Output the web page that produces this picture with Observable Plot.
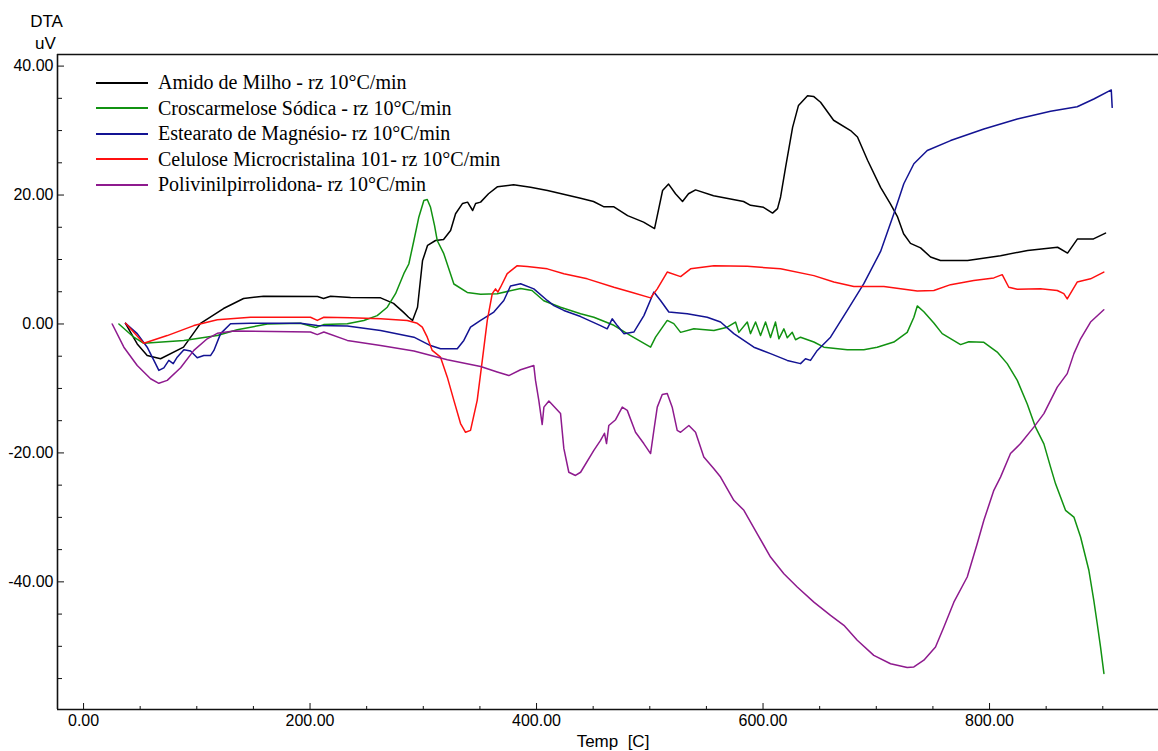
<!DOCTYPE html>
<html>
<head>
<meta charset="utf-8">
<script src="https://cdn.jsdelivr.net/npm/d3@7"></script>
<script src="https://cdn.jsdelivr.net/npm/@observablehq/plot@0.6"></script>
<style>
  body { margin: 0; background: #fff; }
  #chart { position: relative; width: 1158px; height: 751px; }
  #legend {
    position: absolute; left: 96px; top: 70px;
    font-family: "Liberation Serif", "Times New Roman", serif;
    font-size: 20px; color: #000;
  }
  #legend .row { display: flex; align-items: center; height: 25.5px; line-height: 25.5px; white-space: nowrap; }
  #legend .swatch { width: 52px; height: 2px; margin-right: 10px; }
</style>
</head>
<body>
<div id="chart"></div>
<script>
// DTA curves, [temperature °C, signal uV]
const amidoMilho = [[37,0.1],[47.4,-3.1],[56.2,-4.9],[68,-5.4],[88.3,-3.6],[103.3,0.1],[123.6,2.4],[141.3,3.95],[158.9,4.3],[206.6,4.25],[211.9,3.95],[218.1,4.3],[235.8,4.1],[262.3,4.05],[273.7,3.2],[282.6,1.8],[287,1.05],[290.5,0.55],[294.9,2.6],[299.3,9.8],[303.8,12.2],[310.8,12.95],[317.9,13.1],[324.1,14.5],[328.5,17.1],[334.7,18.7],[339.1,18.9],[343.6,17.6],[346.2,18.7],[350.6,18.9],[357.6,20.2],[365.6,21.3],[379.7,21.6],[394.7,21.2],[409.7,20.7],[438.9,19.5],[450.3,19.0],[459.2,18.2],[468,18.2],[480.4,16.8],[494.5,15.8],[504.2,14.8],[511.3,20.7],[516.6,21.7],[522.7,20.2],[528.9,19.0],[534.2,20.2],[540.4,20.8],[556.3,19.9],[571.3,19.4],[582.8,19.0],[589,18.4],[600.4,18.1],[608.4,17.2],[612.8,17.9],[615.5,19.7],[619.9,24.3],[626.1,30.5],[631.3,33.9],[639.3,35.4],[644.6,35.3],[650.8,34.4],[662.3,31.6],[677.3,30.0],[683.4,29.0],[692.3,25.4],[703.8,21.2],[712.6,18.6],[718.8,16.6],[724.1,14.0],[730.2,12.5],[739.1,11.8],[747.9,10.4],[756.7,9.85],[780.6,9.85],[809.7,10.6],[833.6,11.4],[860.1,11.9],[868.9,11.0],[877.7,13.2],[891.8,13.2],[902.4,14.1]];

const croscarmelose = [[31.2,0],[44.4,-2.05],[53.2,-3.0],[88.6,-2.55],[118.1,-1.8],[135.7,-0.9],[162.2,0],[191.6,0.1],[205,-0.55],[212,-0.1],[232.9,0.05],[247.5,0.55],[259.3,1.3],[268.2,2.6],[275.5,4.7],[282.8,7.8],[287.2,9.3],[291.7,12.95],[296.1,16.6],[300.5,19.15],[303.5,19.3],[306.4,18.1],[309.9,15.3],[312.3,12.95],[318.1,10.9],[327,6.2],[338.8,4.9],[350.6,4.6],[365.3,4.7],[385.9,5.5],[396,5.2],[406.4,3.6],[421.2,2.6],[438.9,1.6],[450.6,1.05],[468.3,-0.2],[483,-1.8],[500.7,-3.6],[505.1,-2.05],[515.4,0.55],[521.2,0.05],[527.2,-1.3],[538.9,-0.75],[556.6,-1.0],[568.4,-0.5],[575.7,0.3],[578.6,-1.3],[586.1,0.3],[588.9,-1.5],[593.4,0.3],[597.8,-1.8],[602.2,0.3],[606.6,-2.1],[611,0.3],[614,-2.3],[618.4,-0.75],[621.4,-2.15],[625.8,-1.3],[628.7,-2.45],[633.1,-2.05],[644.9,-2.8],[653.7,-3.6],[674.4,-4.0],[689,-4.0],[700.8,-3.6],[715.5,-2.8],[727.3,-1.3],[733.2,1.05],[736.2,2.8],[742,1.9],[750.8,0.15],[758.2,-1.5],[774.4,-3.2],[781.7,-2.75],[795,-2.85],[806.8,-4.35],[815.6,-6.15],[824.5,-8.75],[833.3,-12.4],[840.6,-16.0],[848,-18.6],[853.9,-22.2],[858.3,-24.8],[867.1,-28.9],[874.5,-29.95],[880.4,-33.05],[887.7,-38.2],[892.1,-42.9],[895.1,-46.5],[898,-50.1],[901,-54.2]];

const estearatoMg = [[37.1,0.1],[47.4,-1.5],[56.2,-3.6],[62.1,-5.65],[66.5,-7.2],[70.9,-6.8],[75.3,-5.65],[79.2,-6.15],[82.7,-5.15],[88.6,-4.0],[94.5,-4.2],[100.4,-5.25],[106.2,-4.9],[112.1,-4.9],[115.1,-4.1],[121,-1.5],[129.8,0.05],[147.5,0.1],[191.6,0.1],[206.4,-0.25],[232.9,-0.3],[262.3,-1.0],[291.7,-2.05],[306.4,-3.35],[315.2,-3.85],[330,-3.85],[335.8,-2.55],[341.7,-0.5],[350.6,0.55],[362.3,1.85],[371.1,3.65],[377,5.9],[385.9,6.25],[397.6,5.45],[409.5,3.65],[415.3,2.85],[424.1,2.1],[438.9,1.15],[456.5,-0.25],[462.4,-0.75],[466.8,0.8],[471.3,-0.25],[477.1,-1.5],[485.9,-1.25],[494.8,1.3],[503.6,4.95],[509.5,3.65],[516.8,1.85],[533.1,1.6],[550.7,1.05],[562.5,0.3],[574.2,-1.5],[591.9,-3.6],[606.6,-4.6],[621.4,-5.65],[633.1,-6.15],[637.5,-5.4],[641.9,-5.65],[647.9,-4.1],[659.6,-2.05],[674.4,2.1],[689,6.25],[703.8,11.25],[715.5,17.1],[724.3,21.75],[733.2,24.85],[745,26.9],[765.6,28.45],[795,30.25],[824.5,31.8],[853.9,33.0],[877.4,33.7],[892.1,34.9],[907.5,36.3],[908.3,33.6]];

const celulose101 = [[37.1,0.1],[53.2,-3.0],[73.9,-1.8],[97.4,-0.25],[118.1,0.65],[147.5,1.05],[200.4,1.05],[206.4,0.55],[212.2,1.05],[235.8,0.95],[262.3,0.8],[285.8,0.55],[294.7,0.1],[299.1,-0.5],[303.5,-2.05],[307.9,-4.1],[315.2,-5.15],[321.2,-8.25],[327,-11.85],[332.9,-15.45],[337.3,-16.8],[341.7,-16.5],[347.6,-11.85],[352.1,-5.65],[356.5,0.55],[360.9,4.7],[363.8,5.45],[365.8,4.95],[368.2,5.7],[374.1,7.8],[383,9.05],[391.8,8.9],[409.5,8.55],[424.1,7.8],[444.8,7.0],[468.3,5.7],[483,4.95],[500.7,4.05],[506.6,5.45],[515.4,8.05],[527.2,7.35],[536,8.55],[556.6,9.05],[586.1,8.95],[615.5,8.55],[644.9,7.5],[662.5,6.5],[680.2,5.8],[706.7,5.8],[736.2,5.1],[750.8,5.2],[765.6,6.1],[786.1,6.75],[803.8,7.15],[811.2,7.65],[817,5.7],[824.5,5.4],[845,5.45],[859.8,5.2],[865.6,4.7],[868.6,3.9],[877.4,6.5],[889.2,7.0],[900.9,8.05]];

const polivinil = [[25.3,0],[35.6,-3.6],[47.4,-6.45],[59.2,-8.5],[66.5,-9.2],[73.9,-8.75],[85.7,-6.8],[97.4,-4.1],[109.2,-2.3],[118.1,-1.45],[132.7,-1.1],[200.4,-1.25],[206.4,-1.65],[212.2,-1.25],[232.9,-2.55],[262.3,-3.35],[291.7,-4.2],[321.2,-5.55],[350.6,-6.6],[365.3,-7.45],[375.5,-8.0],[385.9,-7.1],[397.6,-6.45],[399.1,-8.75],[402,-11.85],[405,-15.6],[406.5,-12.9],[410.9,-11.95],[421.2,-13.9],[424.1,-19.3],[428.5,-23.0],[434.4,-23.5],[438.9,-23.0],[450.6,-19.6],[456.5,-18.05],[460,-16.95],[461.8,-18.55],[463.8,-15.75],[469.8,-14.85],[475.7,-12.9],[480.1,-13.4],[487.4,-16.8],[494.7,-18.55],[500.7,-20.1],[503.6,-16.5],[506.6,-12.9],[511,-10.95],[515.4,-10.8],[519.8,-12.9],[524.2,-16.5],[527.2,-16.8],[534.5,-15.75],[540.4,-16.8],[547.7,-20.65],[556.6,-22.45],[562.5,-23.75],[574.2,-27.35],[583.1,-28.9],[594.9,-32.55],[606.6,-36.15],[618.4,-38.75],[630.2,-40.8],[644.9,-43.15],[659.6,-45.2],[671.4,-46.75],[683.2,-49.05],[697.8,-51.4],[712.6,-52.7],[727.3,-53.3],[733.2,-53.2],[742,-52.15],[752.3,-50.1],[759.7,-47.0],[768.5,-43.15],[780.3,-39.25],[789.1,-34.1],[795,-30.45],[803.8,-25.8],[809.7,-23.75],[818.5,-20.1],[827.4,-18.55],[839.1,-16.0],[848,-13.9],[859.8,-9.8],[868.6,-7.7],[874.5,-4.6],[880.4,-2.3],[889.2,0.3],[900.9,2.2]];

const seriesNames = [
  "Amido de Milho - rz 10°C/min",
  "Croscarmelose Sódica - rz 10°C/min",
  "Estearato de Magnésio- rz 10°C/min",
  "Celulose Microcristalina 101- rz 10°C/min",
  "Polivinilpirrolidona- rz 10°C/min"
];
const seriesData = [amidoMilho, croscarmelose, estearatoMg, celulose101, polivinil];
const seriesColors = ["#000000", "#119211", "#131393", "#ff1010", "#8e1a8e"];

// axis ticks
const tempMajor = [0, 200, 400, 600, 800];
const tempMinor = [50, 100, 150, 250, 300, 350, 450, 500, 550, 650, 700, 750, 850, 900];
const dtaMajor = [-40, -20, 0, 20, 40];
const dtaMinor = [-55, -50, -45, -35, -30, -25, -15, -10, -5, 5, 10, 15, 25, 30, 35];

const tempDomain = [-23, 949.2];
const dtaDomain = [-59.8, 41.8];

const W = 1158, H = 751;
const margin = {top: 54, right: 0, bottom: 42, left: 57};
const plotW = W - margin.left - margin.right;
const plotH = H - margin.top - margin.bottom;

const rows = seriesData.flatMap((pts, i) =>
  pts.map(([temp, dta]) => ({serie: seriesNames[i], temp, dta})));

const axisStroke = {stroke: "#111", strokeWidth: 1.6};
const titleStyle = {text: d => d, fontSize: 17, lineAnchor: "middle", textAnchor: "middle"};

const chart = Plot.plot({
  width: W,
  height: H,
  marginTop: margin.top,
  marginRight: margin.right,
  marginBottom: margin.bottom,
  marginLeft: margin.left,
  x: {domain: tempDomain, label: null},
  y: {domain: dtaDomain, label: null},
  color: {domain: seriesNames, range: seriesColors},
  style: {
    fontFamily: '"Liberation Sans", Arial, sans-serif',
    fontSize: "16px",
    color: "#000",
    background: "#fff"
  },
  marks: [
    // open frame: top, bottom and left edges
    Plot.ruleY([dtaDomain[1]], axisStroke),
    Plot.ruleY([dtaDomain[0]], axisStroke),
    Plot.ruleX([tempDomain[0]], axisStroke),
    // inward ticks
    Plot.tickX(tempMajor, {x: d => d, insetTop: plotH - 6, stroke: "#111"}),
    Plot.tickX(tempMinor, {x: d => d, insetTop: plotH - 3, stroke: "#111"}),
    Plot.tickY(dtaMajor, {y: d => d, insetRight: plotW - 7, stroke: "#111"}),
    Plot.tickY(dtaMinor, {y: d => d, insetRight: plotW - 5, stroke: "#111"}),
    Plot.axisX(tempMajor, {tickSize: 0, tickPadding: 5, tickFormat: d => d.toFixed(2), label: null}),
    Plot.axisY(dtaMajor, {tickSize: 0, tickPadding: 4, tickFormat: d => d.toFixed(2), label: null}),
    // curves
    Plot.line(rows, {x: "temp", y: "dta", z: "serie", stroke: "serie", strokeWidth: 1.5}),
    // axis titles
    Plot.text(["DTA"], {...titleStyle, frameAnchor: "top-left", dx: -11, dy: -33}),
    Plot.text(["uV"], {...titleStyle, frameAnchor: "top-left", dx: -12, dy: -11}),
    Plot.text(["Temp  [C]"], {...titleStyle, frameAnchor: "bottom", dx: 5, dy: 32})
  ]
});

const host = document.getElementById("chart");
host.appendChild(chart);

// legend inside the plot area
const legend = document.createElement("div");
legend.id = "legend";
seriesNames.forEach((name, i) => {
  const row = document.createElement("div");
  row.className = "row";
  const sw = document.createElement("span");
  sw.className = "swatch";
  sw.style.background = seriesColors[i];
  const label = document.createElement("span");
  label.textContent = name;
  row.append(sw, label);
  legend.appendChild(row);
});
host.appendChild(legend);
</script>
</body>
</html>
